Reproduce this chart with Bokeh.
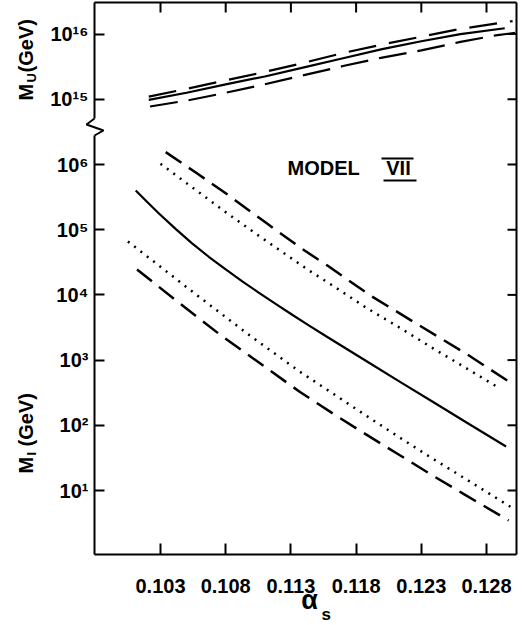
import numpy as np
from bokeh.plotting import figure
from bokeh.models import Label, FixedTicker
from bokeh.embed import file_html
from bokeh.resources import INLINE

# ---------------- data (log10 of mass in GeV) ----------------
# upper panel: unification mass M_U
alpha_MU_solid = [0.1021, 0.1050, 0.1080, 0.1110, 0.1140, 0.1170, 0.1200, 0.1230, 0.1260, 0.1294]
logMU_solid    = [14.99, 15.10, 15.23, 15.35, 15.49, 15.63, 15.77, 15.89, 16.00, 16.09]
alpha_MU_hi    = [0.1021, 0.1050, 0.1080, 0.1110, 0.1140, 0.1170, 0.1200, 0.1230, 0.1260, 0.1300]
logMU_hi       = [15.04, 15.16, 15.29, 15.42, 15.56, 15.71, 15.84, 15.96, 16.08, 16.20]
alpha_MU_lo    = [0.1022, 0.1050, 0.1080, 0.1110, 0.1140, 0.1170, 0.1200, 0.1230, 0.1260, 0.1287, 0.1302]
logMU_lo       = [14.89, 14.98, 15.10, 15.23, 15.37, 15.51, 15.64, 15.75, 15.88, 15.98, 16.02]

# lower panel: intermediate mass M_I
alpha_MI_solid = [0.1011, 0.1020, 0.1029, 0.1042, 0.1054, 0.1067, 0.1080, 0.1093, 0.1105,
                  0.1118, 0.1131, 0.1144, 0.1157, 0.1189, 0.1214, 0.1240, 0.1265, 0.1295]
logMI_solid    = [5.60, 5.42, 5.245, 5.005, 4.795, 4.585, 4.39, 4.205, 4.04,
                  3.865, 3.695, 3.528, 3.365, 2.97, 2.663, 2.345, 2.04, 1.675]
alpha_MI_dash_hi = [0.1034, 0.1059, 0.1082, 0.1112, 0.1139, 0.1158, 0.1191, 0.1227, 0.1265, 0.1298]
logMI_dash_hi    = [6.19, 5.85, 5.53, 5.09, 4.70, 4.45, 3.99, 3.55, 3.09, 2.66]
alpha_MI_dot_hi  = [0.1030, 0.1057, 0.1082, 0.1108, 0.1145, 0.1163, 0.1188, 0.1214, 0.1239, 0.1265, 0.1289]
logMI_dot_hi     = [6.01, 5.61, 5.24, 4.87, 4.36, 4.13, 3.80, 3.49, 3.18, 2.87, 2.58]
alpha_MI_dot_lo  = [0.1005, 0.1032, 0.1057, 0.1099, 0.1137, 0.1162, 0.1186, 0.1212, 0.1237, 0.1263, 0.1300]
logMI_dot_lo     = [4.82, 4.40, 4.01, 3.37, 2.82, 2.49, 2.17, 1.83, 1.51, 1.19, 0.73]
alpha_MI_dash_lo = [0.1012, 0.1041, 0.1075, 0.1137, 0.1163, 0.1186, 0.1212, 0.1237, 0.1263, 0.1297]
logMI_dash_lo    = [4.39, 3.93, 3.40, 2.51, 2.17, 1.88, 1.56, 1.25, 0.94, 0.54]

x_ticks = [0.103, 0.108, 0.113, 0.118, 0.123, 0.128]
x_tick_labels = ["0.103", "0.108", "0.113", "0.118", "0.123", "0.128"]
y_exp_lower = [1, 2, 3, 4, 5, 6]
y_exp_upper = [15, 16]
BREAK_SHIFT = 8          # decades cut out by the axis break

# ---------------- canvas geometry (pixel -> data) ----------------
W, H = 522, 625
PX_PER_ALPHA = 65.2 / 0.005
PX_PER_DECADE = 65.2


def px2x(px):
    return 0.103 + (px - 160) / PX_PER_ALPHA


def px2y(py):
    return 1 + (490 - py) / PX_PER_DECADE


BOX_L, BOX_R, BOX_T, BOX_B = 94, 516, 2, 554      # centre lines of the drawn box

p = figure(frame_width=W, frame_height=H, x_range=(px2x(0), px2x(W)), y_range=(px2y(H), px2y(0)),
           output_backend="svg", toolbar_location=None, title=None, min_border=0)
p.grid.visible = False
p.outline_line_color = None
p.background_fill_color = "white"
p.border_fill_color = "white"

FONT = "Liberation Sans"
sup = str.maketrans("0123456789", "⁰¹²³⁴⁵⁶⁷⁸⁹")

# x axis
xa = p.xaxis[0]
xa.fixed_location = px2y(BOX_B)
xa.ticker = FixedTicker(ticks=x_ticks)
xa.major_label_overrides = {t: l for t, l in zip(x_ticks, x_tick_labels)}
xa.axis_line_color = None
xa.major_tick_in = 11
xa.major_tick_out = 0
xa.major_tick_line_width = 2
xa.minor_tick_line_color = None
xa.major_label_standoff = 24
xa.major_label_text_font = FONT
xa.major_label_text_font_size = "20px"
xa.major_label_text_font_style = "bold"
xa.major_label_text_color = "black"

# y axis (broken: upper decades shifted down by BREAK_SHIFT)
y_tick_pos = y_exp_lower + [e - BREAK_SHIFT for e in y_exp_upper]
y_tick_lab = ["10" + str(e).translate(sup) for e in y_exp_lower + y_exp_upper]
ya = p.yaxis[0]
ya.fixed_location = px2x(BOX_L)
ya.ticker = FixedTicker(ticks=y_tick_pos)
ya.major_label_overrides = {t: l for t, l in zip(y_tick_pos, y_tick_lab)}
ya.axis_line_color = None
ya.major_tick_in = 10
ya.major_tick_out = 0
ya.major_tick_line_width = 2
ya.minor_tick_line_color = None
ya.major_label_standoff = 6
ya.major_label_text_font = FONT
ya.major_label_text_font_size = "20px"
ya.major_label_text_font_style = "bold"
ya.major_label_text_color = "black"

# box
xl, xr, yt, yb = px2x(BOX_L), px2x(BOX_R), px2y(BOX_T), px2y(BOX_B)
brk_lo, brk_hi = px2y(135), px2y(118)
p.segment(x0=[xl, xl, xr, xl, xl], x1=[xr, xr, xr, xl, xl],
          y0=[yb, yt, yb, yb, brk_hi], y1=[yb, yt, yt, brk_lo, yt],
          line_color="black", line_width=2)
# inward ticks on top and right
p.segment(x0=x_ticks, x1=x_ticks, y0=[yt] * len(x_ticks), y1=[px2y(BOX_T + 10)] * len(x_ticks),
          line_color="black", line_width=2)
p.segment(x0=[xr] * len(y_tick_pos), x1=[px2x(BOX_R - 9)] * len(y_tick_pos),
          y0=y_tick_pos, y1=y_tick_pos, line_color="black", line_width=2)
# axis-break zigzag
p.line([px2x(94), px2x(86), px2x(103), px2x(94)], [px2y(118), px2y(124), px2y(130), px2y(135)],
       line_color="black", line_width=2)

# ---------------- curves ----------------
def up(v):
    return [e - BREAK_SHIFT for e in v]


p.line(alpha_MU_solid, up(logMU_solid), line_color="black", line_width=2.2)
p.line(alpha_MU_hi, up(logMU_hi), line_color="black", line_width=2.2, line_dash="28 13")
p.line(alpha_MU_lo, up(logMU_lo), line_color="black", line_width=2.2, line_dash="28 11")

p.line(alpha_MI_solid, logMI_solid, line_color="black", line_width=2.2)
p.line(alpha_MI_dash_hi, logMI_dash_hi, line_color="black", line_width=2.5, line_dash="19 9")
p.line(alpha_MI_dash_lo, logMI_dash_lo, line_color="black", line_width=2.5, line_dash="19 9")
p.line(alpha_MI_dot_hi, logMI_dot_hi, line_color="black", line_width=2.5, line_dash="2 6")
p.line(alpha_MI_dot_lo, logMI_dot_lo, line_color="black", line_width=2.5, line_dash="2 6")

# ---------------- text ----------------
def lab(px, py, text, size, angle=0.0, align="left", style="bold"):
    fix = 0.4 * size                     # baseline correction
    if angle:
        px = px - fix
    else:
        py = py - fix
    p.add_layout(Label(x=px2x(px), y=px2y(py), text=text, angle=angle, text_align=align,
                       text_baseline="alphabetic", text_font=FONT, text_font_size=f"{size}px",
                       text_font_style=style, text_color="black"))


R = np.pi / 2
lab(33, 100, "M", 20, R)
lab(36, 82, "U", 13, R)
lab(33, 72, "(GeV)", 20, R)
lab(33, 473, "M", 20, R)
lab(36, 455, "I", 13, R)
lab(33, 446, "(GeV)", 20, R)

lab(309, 610, "α", 27, align="center")
lab(321, 621, "s", 17)

lab(287, 175, "MODEL", 20)
lab(398, 175, "VII", 20, align="center")
p.segment(x0=[px2x(381), px2x(383)], x1=[px2x(413), px2x(416)],
          y0=[px2y(158), px2y(180)], y1=[px2y(158), px2y(180)], line_color="black", line_width=2)

open("out.html", "w").write(file_html(p, INLINE))
